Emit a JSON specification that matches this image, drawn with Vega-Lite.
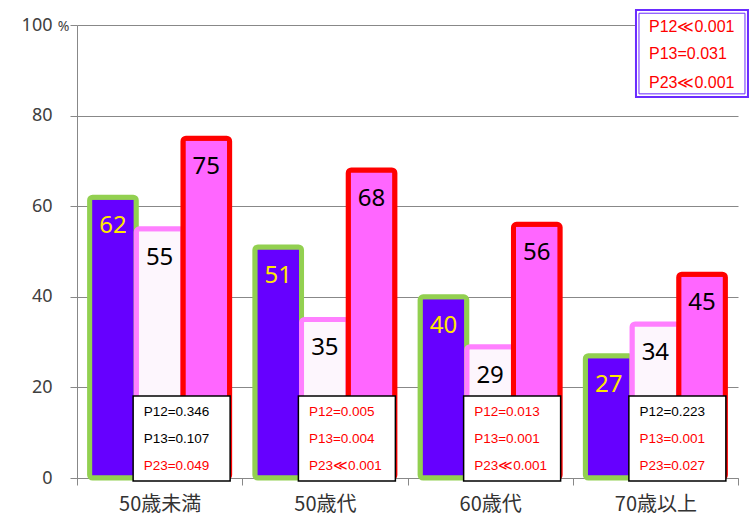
{
  "$schema": "https://vega.github.io/schema/vega-lite/v6.json",
  "width": 661,
  "height": 453,
  "autosize": {"type": "none"},
  "padding": {"left": 77, "top": 25, "right": 14, "bottom": 53},
  "background": "white",
  "config": {"view": {"stroke": null}},
  "datasets": {
    "bars": [
      {"cat": "50歳未満", "series": "A", "value": 62},
      {"cat": "50歳未満", "series": "B", "value": 55},
      {"cat": "50歳未満", "series": "C", "value": 75},
      {"cat": "50歳代", "series": "A", "value": 51},
      {"cat": "50歳代", "series": "B", "value": 35},
      {"cat": "50歳代", "series": "C", "value": 68},
      {"cat": "60歳代", "series": "A", "value": 40},
      {"cat": "60歳代", "series": "B", "value": 29},
      {"cat": "60歳代", "series": "C", "value": 56},
      {"cat": "70歳以上", "series": "A", "value": 27},
      {"cat": "70歳以上", "series": "B", "value": 34},
      {"cat": "70歳以上", "series": "C", "value": 45}
    ],
    "pvals": [
      {"cat": "50歳未満", "p12": "P12=0.346", "p13": "P13=0.107", "p23": "P23=0.049", "s12": false, "s13": false, "s23": true},
      {"cat": "50歳代", "p12": "P12=0.005", "p13": "P13=0.004", "p23": "P23≪0.001", "s12": true, "s13": true, "s23": true},
      {"cat": "60歳代", "p12": "P12=0.013", "p13": "P13=0.001", "p23": "P23≪0.001", "s12": true, "s13": true, "s23": true},
      {"cat": "70歳以上", "p12": "P12=0.223", "p13": "P13=0.001", "p23": "P23=0.027", "s12": false, "s13": true, "s23": true}
    ],
    "overall": [
      {"cat": "70歳以上", "l1": "P12≪0.001", "l2": "P13=0.031", "l3": "P23≪0.001"}
    ],
    "unit": [
      {"cat": "50歳未満", "t": "%"}
    ]
  },
  "encoding": {
    "x": {
      "field": "cat",
      "type": "nominal",
      "sort": ["50歳未満", "50歳代", "60歳代", "70歳以上"],
      "scale": {"domain": ["50歳未満", "50歳代", "60歳代", "70歳以上"], "paddingInner": 0, "paddingOuter": 0},
      "axis": {
        "title": null,
        "labelAngle": 0,
        "labelFont": "Noto Sans CJK JP",
        "labelFontSize": 20,
        "labelColor": "#333333",
        "labelPadding": 9,
        "tickBand": "extent",
        "tickSize": 7,
        "tickColor": "#888888",
        "domainColor": "#888888",
        "grid": false
      }
    }
  },
  "layer": [
    {
      "data": {"name": "bars"},
      "mark": {"type": "bar", "strokeWidth": 5, "cornerRadius": 3},
      "encoding": {
        "xOffset": {"field": "series", "type": "nominal", "scale": {"domain": ["A", "B", "C"], "paddingInner": 0, "paddingOuter": 0.27}},
        "y": {
          "field": "value",
          "type": "quantitative",
          "scale": {"domain": [0, 100]},
          "axis": {
            "title": null,
            "values": [0, 20, 40, 60, 80, 100],
            "grid": true,
            "gridColor": "#888888",
            "tickColor": "#888888",
            "domainColor": "#888888",
            "tickSize": 7,
            "labelPadding": 18,
            "labelFont": "Noto Sans",
            "labelFontSize": 18,
            "labelColor": "#404040"
          }
        },
        "fill": {"field": "series", "type": "nominal", "legend": null, "scale": {"domain": ["A", "B", "C"], "range": ["#6600FF", "#FDF6FD", "#FF66FF"]}},
        "stroke": {"field": "series", "type": "nominal", "legend": null, "scale": {"domain": ["A", "B", "C"], "range": ["#92D050", "#FF80FF", "#FF0000"]}}
      }
    },
    {
      "data": {"name": "bars"},
      "mark": {"type": "text", "baseline": "middle", "dy": 29, "font": "Noto Sans", "fontSize": 24},
      "encoding": {
        "xOffset": {"field": "series", "type": "nominal"},
        "y": {"field": "value", "type": "quantitative"},
        "text": {"field": "value", "type": "quantitative"},
        "color": {"condition": {"test": "datum.series === 'A'", "value": "#FFE800"}, "value": "#000000"}
      }
    },
    {
      "data": {"name": "pvals"},
      "mark": {"type": "bar", "width": 97, "xOffset": 22, "fill": "white", "stroke": "black", "strokeWidth": 1.5},
      "encoding": {
        "y": {"datum": 18.1},
        "y2": {"datum": -0.66}
      }
    },
    {
      "data": {"name": "pvals"},
      "mark": {"type": "text", "align": "left", "baseline": "middle", "xOffset": -16, "font": "Liberation Sans", "fontSize": 13.5},
      "encoding": {
        "y": {"datum": 14.46},
        "text": {"field": "p12"},
        "color": {"condition": {"test": "datum.s12", "value": "#FF0000"}, "value": "#000000"}
      }
    },
    {
      "data": {"name": "pvals"},
      "mark": {"type": "text", "align": "left", "baseline": "middle", "xOffset": -16, "font": "Liberation Sans", "fontSize": 13.5},
      "encoding": {
        "y": {"datum": 8.6},
        "text": {"field": "p13"},
        "color": {"condition": {"test": "datum.s13", "value": "#FF0000"}, "value": "#000000"}
      }
    },
    {
      "data": {"name": "pvals"},
      "mark": {"type": "text", "align": "left", "baseline": "middle", "xOffset": -16, "font": "Liberation Sans", "fontSize": 13.5},
      "encoding": {
        "y": {"datum": 2.65},
        "text": {"field": "p23"},
        "color": {"condition": {"test": "datum.s23", "value": "#FF0000"}, "value": "#000000"}
      }
    },
    {
      "data": {"name": "overall"},
      "mark": {"type": "bar", "width": 112, "xOffset": 36.6, "fill": "white", "stroke": "#6A2BFF", "strokeWidth": 2},
      "encoding": {
        "y": {"datum": 103.3},
        "y2": {"datum": 84.1}
      }
    },
    {
      "data": {"name": "overall"},
      "mark": {"type": "bar", "width": 106, "xOffset": 36.6, "fill": null, "fillOpacity": 0, "stroke": "#6A2BFF", "strokeWidth": 1},
      "encoding": {
        "y": {"datum": 102.6},
        "y2": {"datum": 84.8}
      }
    },
    {
      "data": {"name": "overall"},
      "mark": {"type": "text", "align": "left", "baseline": "middle", "xOffset": -6.4, "font": "Liberation Sans", "fontSize": 16, "color": "#FF0000"},
      "encoding": {"y": {"datum": 99.6}, "text": {"field": "l1"}}
    },
    {
      "data": {"name": "overall"},
      "mark": {"type": "text", "align": "left", "baseline": "middle", "xOffset": -6.4, "font": "Liberation Sans", "fontSize": 16, "color": "#FF0000"},
      "encoding": {"y": {"datum": 93.6}, "text": {"field": "l2"}}
    },
    {
      "data": {"name": "overall"},
      "mark": {"type": "text", "align": "left", "baseline": "middle", "xOffset": -6.4, "font": "Liberation Sans", "fontSize": 16, "color": "#FF0000"},
      "encoding": {"y": {"datum": 87.2}, "text": {"field": "l3"}}
    },
    {
      "data": {"name": "unit"},
      "mark": {"type": "text", "align": "center", "baseline": "middle", "xOffset": -96, "dy": 2, "font": "Noto Sans", "fontSize": 14, "color": "#404040"},
      "encoding": {"y": {"datum": 100}, "text": {"field": "t"}}
    }
  ]
}
